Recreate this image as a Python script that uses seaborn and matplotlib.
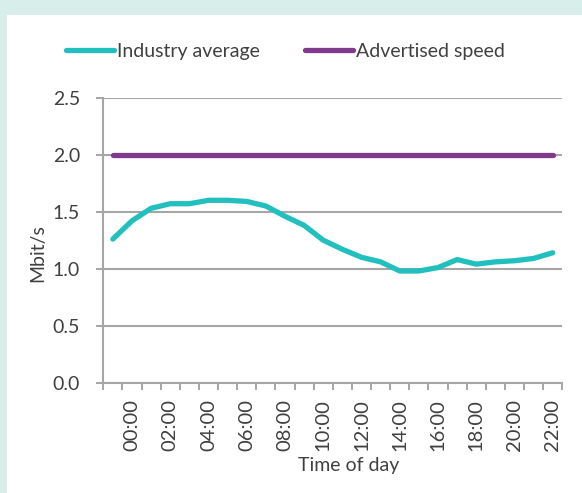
import matplotlib
matplotlib.use("Agg")
import matplotlib.pyplot as plt
from matplotlib.lines import Line2D
from matplotlib.patches import Rectangle
import numpy as np
import pandas as pd
import seaborn as sns

# ---- data ----
hours = ["23:00"] + [f"{h:02d}:00" for h in range(0, 23)]
industry_average = [1.26, 1.42, 1.53, 1.57, 1.57, 1.60, 1.60, 1.59, 1.55, 1.46,
                    1.38, 1.25, 1.17, 1.10, 1.06, 0.98, 0.98, 1.01, 1.08, 1.04,
                    1.06, 1.07, 1.09, 1.14]
advertised_speed = [2.0] * 24
series_names = ["Industry average", "Advertised speed"]
y_ticks = [0.0, 0.5, 1.0, 1.5, 2.0, 2.5]

TEAL = "#21bfbd"
PURPLE = "#80398c"
GRID = "#a6a6a6"
TEXT = "#404040"
BG = "#d8eeeb"
FS = 14

sns.set_theme(style="white")
plt.rcParams["font.family"] = ["Lato", "DejaVu Sans"]

df = pd.DataFrame({
    "pos": list(range(len(hours))) * 2,
    "hour": hours * 2,
    "value": industry_average + advertised_speed,
    "series": [series_names[0]] * len(hours) + [series_names[1]] * len(hours),
})

fig = plt.figure(figsize=(5.82, 4.93), dpi=100, facecolor=BG)
fig.patches.append(Rectangle((7.3 / 582, 0), 1, 1 - 15 / 493, transform=fig.transFigure,
                             facecolor="white", edgecolor="none", zorder=-10))
ax = fig.add_axes([103.3 / 582, 1 - 382.7 / 493, 459 / 582, 285 / 493])
ax.set_facecolor("none")
ax.set_zorder(5)

sns.lineplot(data=df, x="pos", y="value", hue="series",
             palette={series_names[0]: TEAL, series_names[1]: PURPLE},
             linewidth=3.8, ax=ax, legend=False, sort=False)
for ln in ax.lines:
    ln.set_solid_capstyle("round")
    ln.set_solid_joinstyle("round")
    ln.set_zorder(3)

n = len(hours)
ax.set_xlim(-0.5, n - 0.5)
ax.set_ylim(0, 2.5)

# x ticks: marks at category boundaries, labels every 2nd category
ax.set_xticks(np.arange(-0.5, n, 1.0))
ax.set_xticklabels([])
lab_pos = list(range(1, n, 2))
ax.set_xticks(lab_pos, minor=True)
ax.set_xticklabels([hours[i] for i in lab_pos], minor=True, rotation=90)
ax.tick_params(axis="x", which="major", direction="out", length=4.75, width=1.4,
               color=GRID, bottom=True)
ax.tick_params(axis="x", which="minor", length=0, pad=11.5, labelsize=14.5,
               labelcolor=TEXT, bottom=True)

ax.set_yticks(y_ticks)
ax.set_yticklabels([f"{v:.1f}" for v in y_ticks])
ax.tick_params(axis="y", which="major", direction="out", length=4.75, width=1.4,
               color=GRID, left=True, pad=12, labelsize=FS, labelcolor=TEXT)

ax.grid(axis="y", color=GRID, linewidth=1.5, zorder=1)
ax.grid(axis="x", visible=False)
ax.set_axisbelow(True)
for s in ["top", "right"]:
    ax.spines[s].set_visible(False)
for s in ["left", "bottom"]:
    ax.spines[s].set_color(GRID)
    ax.spines[s].set_linewidth(1.5)

ax.set_xlabel("")
ax.set_ylabel("")
fig.text(38 / 582, 1 - 253 / 493, "Mbit/s", rotation=90, ha="center", va="center",
         fontsize=FS, color=TEXT)
fig.text(348.5 / 582, 1 - 466 / 493, "Time of day", ha="center", va="center",
         fontsize=FS, color=TEXT)

handles = [Line2D([], [], color=TEAL, linewidth=3.8, solid_capstyle="round"),
           Line2D([], [], color=PURPLE, linewidth=3.8, solid_capstyle="round")]
fs_px = FS * 100 / 72
leg = fig.legend(handles, series_names, loc="center left",
                 bbox_to_anchor=(65.7 / 582, 1 - 51 / 493), ncol=2, frameon=False,
                 fontsize=FS, handlelength=48 / fs_px, handletextpad=3.3 / fs_px,
                 columnspacing=45 / fs_px, borderpad=0, borderaxespad=0,
                 labelcolor=TEXT)

fig.savefig("out.png", dpi=100, facecolor=BG)
